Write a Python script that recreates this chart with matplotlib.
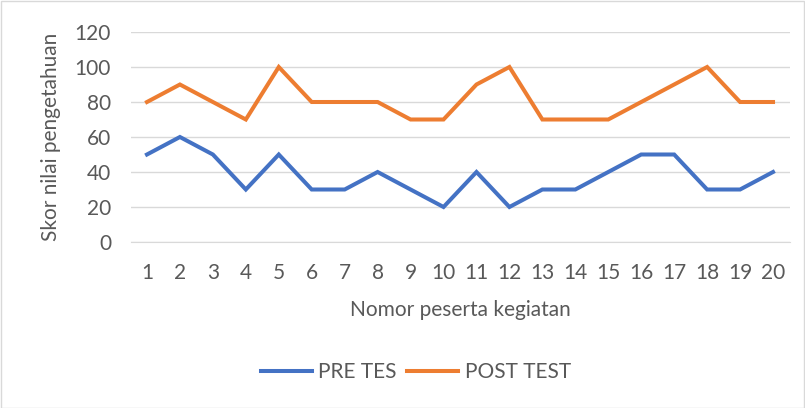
import matplotlib
matplotlib.use("Agg")
import matplotlib.pyplot as plt
from matplotlib.patches import Rectangle

participants = [str(i) for i in range(1, 21)]
pre_tes = [50, 60, 50, 30, 50, 30, 30, 40, 30, 20, 40, 20, 30, 30, 40, 50, 50, 30, 30, 40]
post_test = [80, 90, 80, 70, 100, 80, 80, 80, 70, 70, 90, 100, 70, 70, 70, 80, 90, 100, 80, 80]
y_ticks = [0, 20, 40, 60, 80, 100, 120]

plt.rcParams['font.family'] = ['Lato', 'DejaVu Sans']
txt = '#595959'
fs = 15

fig = plt.figure(figsize=(8.05, 4.08), dpi=100)
ax = fig.add_axes([130.5 / 805, 166 / 408, 659 / 805, 210 / 408])

x = list(range(len(participants)))
ax.plot(x, pre_tes, color='#4472C4', lw=2.9, label='PRE TES', solid_joinstyle='miter')
ax.plot(x, post_test, color='#ED7D31', lw=2.9, label='POST TEST', solid_joinstyle='miter')

ax.set_xlim(-0.5, len(participants) - 0.5)
ax.set_ylim(0, 120)
ax.set_yticks(y_ticks)
ax.set_xticks(x)
ax.set_xticklabels(participants)
ax.grid(axis='y', color='#D9D9D9', lw=1)
ax.set_axisbelow(True)
for s in ['top', 'right', 'left']:
    ax.spines[s].set_visible(False)
ax.spines['bottom'].set_color('#D9D9D9')
ax.tick_params(axis='x', length=0, labelsize=fs, colors=txt, pad=15)
ax.tick_params(axis='y', length=0, labelsize=fs, colors=txt, pad=14)
ax.set_xlabel('Nomor peserta kegiatan', fontsize=fs, color=txt, labelpad=12)
ax.set_ylabel('Skor nilai pengetahuan', fontsize=fs, color=txt, labelpad=10)

fig.legend(loc='center', bbox_to_anchor=(416 / 805, 36 / 408), ncol=2, frameon=False,
           fontsize=fs, labelcolor=txt, handlelength=2.45, handletextpad=0.3,
           columnspacing=0.5)

fig.patches.append(Rectangle((0.5 / 805, 0.5 / 408), 803.5 / 805, 406.5 / 408,
                             transform=fig.transFigure, fill=False,
                             edgecolor='#D9D9D9', lw=1))

fig.savefig('out.png', dpi=100)
